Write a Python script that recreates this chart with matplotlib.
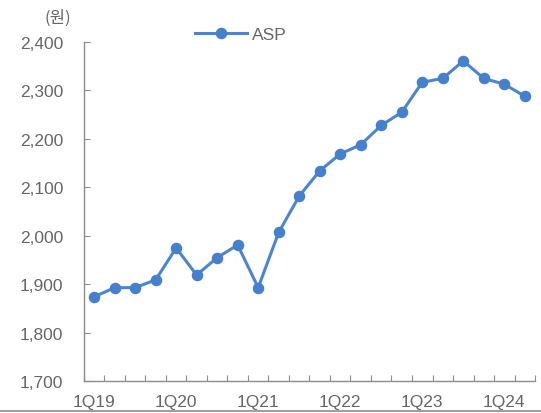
import numpy as np
import matplotlib.pyplot as plt
from matplotlib.lines import Line2D

plt.rcParams['font.family'] = ['Liberation Sans', 'Noto Sans CJK KR', 'DejaVu Sans']

quarters = ['1Q19', '2Q19', '3Q19', '4Q19', '1Q20', '2Q20', '3Q20', '4Q20',
            '1Q21', '2Q21', '3Q21', '4Q21', '1Q22', '2Q22', '3Q22', '4Q22',
            '1Q23', '2Q23', '3Q23', '4Q23', '1Q24', '2Q24']
asp = [1874, 1893, 1893, 1909, 1975, 1919, 1955, 1981,
       1893, 2007, 2082, 2134, 2169, 2188, 2228, 2255,
       2317, 2325, 2361, 2325, 2313, 2288]
label_every = 4

line_color = '#4a86d0'
text_color = '#666666'
axis_color = '#8c8c8c'

fig = plt.figure(figsize=(5.41, 4.14), dpi=100)
ax = fig.add_axes([0.155, 0.077, 0.834, 0.819])

x = np.arange(len(quarters))
ax.plot(x, asp, color=line_color, linewidth=2.2, marker='o', markersize=7.3,
        markerfacecolor='#4580cc', markeredgecolor='#4580cc', label='ASP')

ax.set_xlim(-0.5, len(quarters) - 0.5)
ax.set_ylim(1700, 2400)
ax.set_yticks(np.arange(1700, 2401, 100))
ax.set_yticklabels([f'{v:,}' for v in range(1700, 2401, 100)])

# boundary ticks (no labels) + category labels
ax.set_xticks(np.arange(-0.5, len(quarters), 1.0))
ax.set_xticklabels([])
ax.set_xticks(x[::label_every], minor=True)
ax.set_xticklabels([quarters[i] for i in x[::label_every]], minor=True)
ax.tick_params(axis='x', which='major', direction='in', length=4, color=axis_color)
ax.tick_params(axis='x', which='minor', length=0, pad=9, labelsize=12.5, labelcolor=text_color)
ax.tick_params(axis='y', direction='in', length=4, color=axis_color,
               labelsize=12.5, labelcolor=text_color, pad=15)

for side in ['top', 'right']:
    ax.spines[side].set_visible(False)
for side in ['left', 'bottom']:
    ax.spines[side].set_color(axis_color)
    ax.spines[side].set_linewidth(1.0)

fig.text(0.083, 0.955, '(원)', fontsize=12, color=text_color, ha='left', va='center',
         family=['Noto Sans CJK KR', 'DejaVu Sans'])

ax.legend(loc='center', bbox_to_anchor=(0.445, 0.915), bbox_transform=fig.transFigure,
          frameon=False, fontsize=12.5, handlelength=3.0, handletextpad=0.3,
          labelcolor=text_color)

fig.add_artist(Line2D([0, 1], [0.005, 0.005], color='#a0a0a0', linewidth=1.5,
                      transform=fig.transFigure))

fig.savefig('out.png', dpi=100)
